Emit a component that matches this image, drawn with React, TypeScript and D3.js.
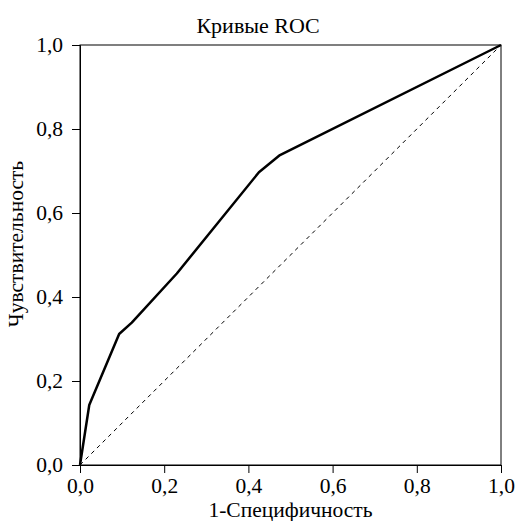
import React, { useEffect, useRef } from 'react';
import * as d3 from 'd3';

// ROC curve points
const fprValues = [0, 0.022, 0.093, 0.123, 0.23, 0.425, 0.475, 1.0];
const tprValues = [0, 0.143, 0.312, 0.339, 0.456, 0.697, 0.738, 1.0];
const tickValues = [0, 0.2, 0.4, 0.6, 0.8, 1.0];

const title = 'Кривые ROC';
const xTitle = '1-Специфичность';
const yTitle = 'Чувствительность';

const App = () => {
  const ref = useRef<SVGSVGElement | null>(null);

  useEffect(() => {
    const svg = d3.select(ref.current);
    svg.selectAll('*').remove();

    const left = 80, right = 501, top = 45, bottom = 465;
    const font = '"Liberation Serif", "Times New Roman", serif';
    const fmt = (d: number) => d.toFixed(1).replace('.', ',');

    const x = d3.scaleLinear().domain([0, 1]).range([left, right]);
    const y = d3.scaleLinear().domain([0, 1]).range([bottom, top]);

    // frame
    svg.append('rect')
      .attr('x', left).attr('y', top)
      .attr('width', right - left).attr('height', bottom - top)
      .attr('fill', 'none').attr('stroke', '#000').attr('stroke-width', 1);

    // axes
    const xAxis = svg.append('g')
      .attr('transform', `translate(0,${bottom})`)
      .call(d3.axisBottom(x).tickValues(tickValues).tickFormat(fmt as any).tickSize(8).tickPadding(5));
    const yAxis = svg.append('g')
      .attr('transform', `translate(${left},0)`)
      .call(d3.axisLeft(y).tickValues(tickValues).tickFormat(fmt as any).tickSize(8).tickPadding(9));
    [xAxis, yAxis].forEach(g => {
      g.attr('font-family', font).attr('font-size', 21.5);
      g.select('.domain').attr('stroke', '#000');
      g.selectAll('line').attr('stroke', '#000');
      g.selectAll('text').attr('fill', '#000');
    });

    // reference diagonal
    svg.append('line')
      .attr('x1', x(0)).attr('y1', y(0))
      .attr('x2', x(1)).attr('y2', y(1))
      .attr('stroke', '#000').attr('stroke-width', 1)
      .attr('stroke-dasharray', '4 4');

    // ROC curve
    const pts = fprValues.map((v, i) => [v, tprValues[i]] as [number, number]);
    const line = d3.line<[number, number]>().x(d => x(d[0])).y(d => y(d[1]));
    svg.append('path')
      .attr('d', line(pts))
      .attr('fill', 'none')
      .attr('stroke', '#000')
      .attr('stroke-width', 2.5)
      .attr('stroke-linejoin', 'round');

    // titles
    svg.append('text')
      .attr('x', 258).attr('y', 33)
      .attr('text-anchor', 'middle')
      .attr('font-family', font).attr('font-size', 22)
      .text(title);
    svg.append('text')
      .attr('x', (left + right) / 2).attr('y', 517)
      .attr('text-anchor', 'middle')
      .attr('font-family', font).attr('font-size', 21.5)
      .text(xTitle);
    svg.append('text')
      .attr('transform', `translate(23,244) rotate(-90)`)
      .attr('text-anchor', 'middle')
      .attr('font-family', font).attr('font-size', 21.5)
      .text(yTitle);
  }, []);

  return (
    <svg ref={ref} width={515} height={521}
      style={{ position: 'absolute', left: 0, top: 0, background: '#fff' }} />
  );
};

export default App;
